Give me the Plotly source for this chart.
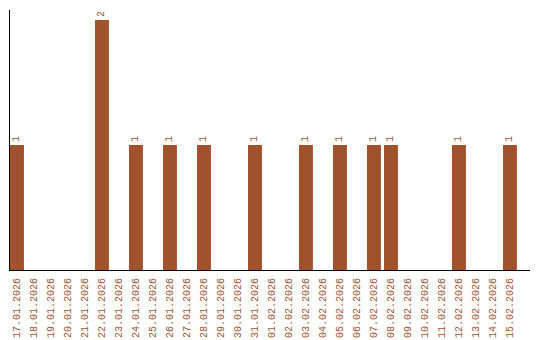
import plotly.graph_objects as go

dates = ["17.01.2026","18.01.2026","19.01.2026","20.01.2026","21.01.2026","22.01.2026",
         "23.01.2026","24.01.2026","25.01.2026","26.01.2026","27.01.2026","28.01.2026",
         "29.01.2026","30.01.2026","31.01.2026","01.02.2026","02.02.2026","03.02.2026",
         "04.02.2026","05.02.2026","06.02.2026","07.02.2026","08.02.2026","09.02.2026",
         "10.02.2026","11.02.2026","12.02.2026","13.02.2026","14.02.2026","15.02.2026"]
counts = [1,0,0,0,0,2,0,1,0,1,0,1,0,0,1,0,0,1,0,1,0,1,1,0,0,0,1,0,0,1]

color = "#A0522D"
font = "Liberation Mono, Courier New, monospace"

texts = [str(v) if v else "" for v in counts]

fig = go.Figure(go.Bar(
    x=dates, y=counts, marker_color=color, marker_line_width=0,
    text=texts, textposition="outside", textangle=-90,
    textfont=dict(family=font, size=10, color=color), cliponaxis=False,
))
fig.update_layout(
    width=540, height=340, margin=dict(l=10, r=10, t=10, b=70, autoexpand=False),
    plot_bgcolor="white", paper_bgcolor="white", bargap=0.18,
    showlegend=False, font=dict(family=font, size=10, color=color),
)
fig.update_xaxes(type="category", range=[-0.41, 30.18], showline=True, linecolor="black",
                 linewidth=1, tickangle=-90, ticks="", showgrid=False, automargin=False,
                 ticklabelstandoff=3,
                 tickfont=dict(family=font, size=10, color=color))
fig.update_yaxes(range=[0, 2.08], showline=True, linecolor="black", linewidth=1,
                 showticklabels=False, ticks="", showgrid=False, zeroline=False,
                 automargin=False)
fig.write_html("out.html")
